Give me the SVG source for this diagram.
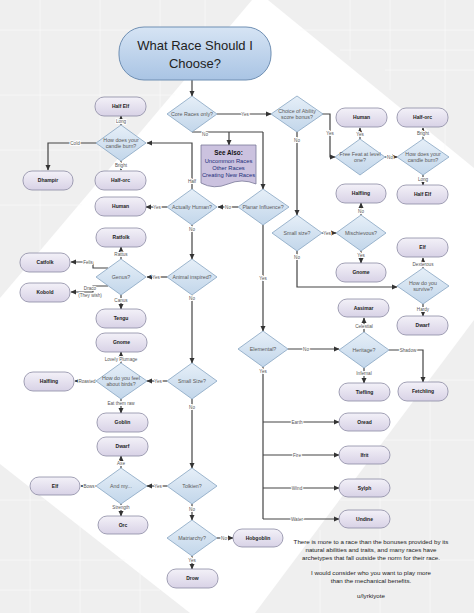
<svg xmlns="http://www.w3.org/2000/svg" width="474" height="613" viewBox="0 0 474 613">
<defs>
<linearGradient id="gT" x1="0" y1="0" x2="0" y2="1"><stop offset="0" stop-color="#f3f1f8"/><stop offset="1" stop-color="#d8d2e6"/></linearGradient>
<linearGradient id="gD" x1="0" y1="0" x2="0" y2="1"><stop offset="0" stop-color="#e6eff8"/><stop offset="1" stop-color="#c2d6ea"/></linearGradient>
<linearGradient id="gTitle" x1="0" y1="0" x2="0" y2="1"><stop offset="0" stop-color="#d6e4f4"/><stop offset="1" stop-color="#a9c4e4"/></linearGradient>
<marker id="ar" markerWidth="6" markerHeight="6" refX="5" refY="3" orient="auto" markerUnits="userSpaceOnUse"><path d="M0,0.5 L5.5,3 L0,5.5 z" fill="#333"/></marker>
</defs>
<style>
.t rect{fill:url(#gT);stroke:#8b8aa3;stroke-width:0.8}
.t text{font-family:"Liberation Sans",Arial,sans-serif;font-size:5px;font-weight:bold;fill:#222;text-anchor:middle}
.d polygon{fill:url(#gD);stroke:#86a5c2;stroke-width:0.8}
.d text{font-family:"Liberation Sans",Arial,sans-serif;font-size:5.3px;fill:#5a5a5a;text-anchor:middle}
#connectors path{fill:none;stroke:#444;stroke-width:1.2}
#connectors .a{marker-end:url(#ar)}
.lb{font-family:"Liberation Sans",Arial,sans-serif;font-size:4.6px;fill:#555;text-anchor:middle;stroke:#fff;stroke-width:2;paint-order:stroke;stroke-linejoin:round}
.bg{fill:#efefef}
.gl{stroke:#fbfbfb;stroke-width:0.7}
.note{font-family:"Liberation Sans",Arial,sans-serif;font-size:6.2px;fill:#222;text-anchor:middle}
</style>
<rect width="474" height="613" fill="#ffffff"/>
<g id="background">
<polygon class="bg" points="0,0 252,0 0,298"/>
<polygon class="bg" points="268,0 474,0 474,168"/>
<polygon class="bg" points="474,320 474,613 255,613"/>
<polygon class="bg" points="0,464 0,613 190,613"/>
<path class="gl" d="M0,30 H230 M0,95 H175 M0,150 H128 M0,205 H82 M40,0 V250 M100,0 V180 M160,0 V110 M205,0 V55 M300,30 H474 M340,50 H474 M385,70 H474 M350,0 V60 M390,0 V90 M445,0 V150 M0,500 H45 M0,560 H125 M0,590 H160 M30,487 V613 M80,525 V613 M140,570 V613 M474,380 H430 M474,440 H385 M474,500 H340 M474,560 H300 M430,380 V613 M380,460 V613 M320,530 V613"/>
</g>
<g id="connectors">
<path class="a" d="M192,80 V96"/>
<path class="a" d="M217,114 H271"/>
<path d="M192,132 H263"/>
<path class="a" d="M263,132 V189"/>
<path class="a" d="M229,132 V145"/>
<path class="a" d="M238,207 H218"/>
<path class="a" d="M167,207 H146"/>
<path class="a" d="M192,189 V143 H147"/>
<path class="a" d="M121,125 V116"/>
<path class="a" d="M121,161 V170"/>
<path class="a" d="M96,143 H48 V170"/>
<path class="a" d="M192,225 V259"/>
<path class="a" d="M167,277 H147"/>
<path class="a" d="M192,295 V363"/>
<path class="a" d="M121,259 V247"/>
<path class="a" d="M108,268 H93 V262 H71"/>
<path class="a" d="M108,286 H93 V292 H71"/>
<path class="a" d="M121,295 V309"/>
<path class="a" d="M167,381 H147"/>
<path class="a" d="M192,399 V468"/>
<path class="a" d="M121,363 V352"/>
<path class="a" d="M96,381 H75"/>
<path class="a" d="M121,399 V413"/>
<path class="a" d="M167,486 H147"/>
<path class="a" d="M192,504 V520"/>
<path class="a" d="M121,468 V456"/>
<path class="a" d="M96,486 H81"/>
<path class="a" d="M121,504 V516"/>
<path class="a" d="M217,538 H233"/>
<path class="a" d="M192,556 V569"/>
<path class="a" d="M263,225 V331"/>
<path class="a" d="M288,349 H339"/>
<path d="M263,367 V519"/>
<path class="a" d="M263,422 H339"/>
<path class="a" d="M263,455 H339"/>
<path class="a" d="M263,488 H339"/>
<path class="a" d="M263,519 H339"/>
<path class="a" d="M364,332 V318"/>
<path class="a" d="M389,350 H423 V382"/>
<path class="a" d="M364,368 V383"/>
<path class="a" d="M297,132 V215"/>
<path class="a" d="M322,114 H330 V157 H335"/>
<path class="a" d="M360,139 V128"/>
<path class="a" d="M385,157 H397"/>
<path class="a" d="M423,139 V128"/>
<path class="a" d="M423,175 V185"/>
<path class="a" d="M322,233 H336"/>
<path class="a" d="M361,215 V203"/>
<path class="a" d="M361,251 V263"/>
<path class="a" d="M297,251 V287 H397"/>
<path class="a" d="M423,268 V258"/>
<path class="a" d="M423,304 V316"/>
<text class="lb" x="245" y="115.5">Yes</text>
<text class="lb" x="205" y="135.5">No</text>
<text class="lb" x="228" y="208.5">No</text>
<text class="lb" x="157" y="208.5">Yes</text>
<text class="lb" x="192" y="182.5">Half</text>
<text class="lb" x="121" y="122.5">Long</text>
<text class="lb" x="121" y="166.5">Bright</text>
<text class="lb" x="75" y="144.5">Cold</text>
<text class="lb" x="192" y="230.5">No</text>
<text class="lb" x="156" y="278.5">Yes</text>
<text class="lb" x="192" y="299.5">No</text>
<text class="lb" x="121" y="255.5">Rattus</text>
<text class="lb" x="88" y="263.5">Felis</text>
<text class="lb" x="90" y="290">Draco</text>
<text class="lb" x="90" y="297">(They wish)</text>
<text class="lb" x="121" y="301.5">Canus</text>
<text class="lb" x="158" y="382.5">Yes</text>
<text class="lb" x="192" y="408.5">No</text>
<text class="lb" x="121" y="360.5">Lovely Plumage</text>
<text class="lb" x="87" y="382.5">Roasted</text>
<text class="lb" x="121" y="404.5">Eat them raw</text>
<text class="lb" x="158" y="487.5">Yes</text>
<text class="lb" x="192" y="510.5">No</text>
<text class="lb" x="121" y="464.5">Axe</text>
<text class="lb" x="89" y="487.5">Bows</text>
<text class="lb" x="121" y="508.5">Strength</text>
<text class="lb" x="224" y="539.5">No</text>
<text class="lb" x="192" y="561.5">Yes</text>
<text class="lb" x="263" y="279.5">Yes</text>
<text class="lb" x="306" y="350.5">No</text>
<text class="lb" x="263" y="372.5">Yes</text>
<text class="lb" x="297" y="423.5">Earth</text>
<text class="lb" x="297" y="456.5">Fire</text>
<text class="lb" x="297" y="489.5">Wind</text>
<text class="lb" x="297" y="520.5">Water</text>
<text class="lb" x="364" y="327.5">Celestial</text>
<text class="lb" x="408" y="351.5">Shadow</text>
<text class="lb" x="364" y="374.5">Infernal</text>
<text class="lb" x="297" y="141.5">No</text>
<text class="lb" x="330" y="134.5">Yes</text>
<text class="lb" x="360" y="135.5">Yes</text>
<text class="lb" x="390" y="158.5">No</text>
<text class="lb" x="423" y="134.5">Bright</text>
<text class="lb" x="423" y="180.5">Long</text>
<text class="lb" x="327" y="234.5">Yes</text>
<text class="lb" x="361" y="212.5">No</text>
<text class="lb" x="361" y="256.5">Yes</text>
<text class="lb" x="297" y="258.5">No</text>
<text class="lb" x="423" y="265.5">Dexterous</text>
<text class="lb" x="423" y="310.5">Hardy</text>
</g>
<g id="title">
<rect x="119" y="27" width="152" height="53" rx="25" fill="url(#gTitle)" stroke="#6f8fb3" stroke-width="1"/>
<text x="195" y="50" font-family="Liberation Sans, Arial, sans-serif" font-size="13" fill="#222" text-anchor="middle">What Race Should I</text>
<text x="195" y="68" font-family="Liberation Sans, Arial, sans-serif" font-size="13" fill="#222" text-anchor="middle">Choose?</text>
</g>
<g id="seealso">
<path d="M201,145 H256 V184 Q242,178 228,184 T201,183 Z" fill="#cbc2df" stroke="#7a7898" stroke-width="0.8"/>
<text x="228.5" y="155" font-family="Liberation Sans, Arial, sans-serif" font-size="6.3" font-weight="bold" fill="#111" text-anchor="middle">See Also:</text>
<text x="228.5" y="163" font-family="Liberation Sans, Arial, sans-serif" font-size="5.8" fill="#1c2f7a" text-anchor="middle">Uncommon Races</text>
<text x="228.5" y="170" font-family="Liberation Sans, Arial, sans-serif" font-size="5.8" fill="#1c2f7a" text-anchor="middle">Other Races</text>
<text x="228.5" y="177" font-family="Liberation Sans, Arial, sans-serif" font-size="5.8" fill="#1c2f7a" text-anchor="middle">Creating New Races</text>
</g>
<g id="d-core" class="d"><polygon points="167,114 192,96 217,114 192,132"/><text x="192" y="116">Core Races only?</text></g>
<g id="d-ability" class="d"><polygon points="271,114 297,96 323,114 297,132"/><text x="297" y="113">Choice of Ability</text><text x="297" y="119">score bonus?</text></g>
<g id="d-candle-l" class="d"><polygon points="96,143 121,125 146,143 121,161"/><text x="121" y="142">How does your</text><text x="121" y="148">candle burn?</text></g>
<g id="d-planar" class="d"><polygon points="238,207 263,189 289,207 263,225"/><text x="263" y="209">Planar Influence?</text></g>
<g id="d-human" class="d"><polygon points="167,207 192,189 217,207 192,225"/><text x="192" y="209">Actually Human?</text></g>
<g id="d-animal" class="d"><polygon points="167,277 192,259 217,277 192,295"/><text x="192" y="279">Animal inspired?</text></g>
<g id="d-genus" class="d"><polygon points="96,277 121,259 146,277 121,295"/><text x="121" y="279">Genus?</text></g>
<g id="d-birds" class="d"><polygon points="96,381 121,363 147,381 121,399"/><text x="121" y="380">How do you feel</text><text x="121" y="386">about birds?</text></g>
<g id="d-small" class="d"><polygon points="167,381 192,363 217,381 192,399"/><text x="192" y="383">Small Size?</text></g>
<g id="d-tolkien" class="d"><polygon points="167,486 192,468 217,486 192,504"/><text x="192" y="488">Tolkien?</text></g>
<g id="d-andmy" class="d"><polygon points="96,486 121,468 147,486 121,504"/><text x="121" y="488">And my...</text></g>
<g id="d-matri" class="d"><polygon points="167,538 192,520 217,538 192,556"/><text x="192" y="540">Matriarchy?</text></g>
<g id="d-elem" class="d"><polygon points="238,349 263,331 288,349 263,367"/><text x="263" y="351">Elemental?</text></g>
<g id="d-herit" class="d"><polygon points="339,350 364,332 389,350 364,368"/><text x="364" y="352">Heritage?</text></g>
<g id="d-small-r" class="d"><polygon points="272,233 297,215 322,233 297,251"/><text x="297" y="235">Small size?</text></g>
<g id="d-misch" class="d"><polygon points="336,233 361,215 386,233 361,251"/><text x="361" y="235">Mischievous?</text></g>
<g id="d-survive" class="d"><polygon points="397,286 423,268 449,286 423,304"/><text x="423" y="285">How do you</text><text x="423" y="291">survive?</text></g>
<g id="d-feat" class="d"><polygon points="335,157 360,139 385,157 360,175"/><text x="360" y="156">Free Feat at level</text><text x="360" y="162">one?</text></g>
<g id="d-candle-r" class="d"><polygon points="397,157 423,139 449,157 423,175"/><text x="423" y="156">How does your</text><text x="423" y="162">candle burn?</text></g>
<g id="t-halfelf-l" class="t"><rect x="95" y="97" width="51" height="19" rx="9"/><text x="120.5" y="108">Half Elf</text></g>
<g id="t-dhampir" class="t"><rect x="23" y="171" width="50" height="19" rx="9"/><text x="48" y="182">Dhampir</text></g>
<g id="t-halforc-l" class="t"><rect x="95" y="171" width="51" height="19" rx="9"/><text x="120.5" y="182">Half-orc</text></g>
<g id="t-human-l" class="t"><rect x="95" y="197" width="51" height="19" rx="9"/><text x="120.5" y="208">Human</text></g>
<g id="t-ratfolk" class="t"><rect x="96" y="228" width="50" height="19" rx="9"/><text x="121" y="239">Ratfolk</text></g>
<g id="t-catfolk" class="t"><rect x="20" y="253" width="50" height="19" rx="9"/><text x="45" y="264">Catfolk</text></g>
<g id="t-kobold" class="t"><rect x="20" y="283" width="50" height="19" rx="9"/><text x="45" y="294">Kobold</text></g>
<g id="t-tengu" class="t"><rect x="96" y="309" width="50" height="19" rx="9"/><text x="121" y="320">Tengu</text></g>
<g id="t-gnome-l" class="t"><rect x="96" y="333" width="51" height="19" rx="9"/><text x="121.5" y="344">Gnome</text></g>
<g id="t-halfling-l" class="t"><rect x="24" y="372" width="50" height="19" rx="9"/><text x="49" y="383">Halfling</text></g>
<g id="t-goblin" class="t"><rect x="97" y="413" width="51" height="19" rx="9"/><text x="122.5" y="424">Goblin</text></g>
<g id="t-dwarf-l" class="t"><rect x="97" y="437" width="51" height="19" rx="9"/><text x="122.5" y="448">Dwarf</text></g>
<g id="t-elf-l" class="t"><rect x="30" y="477" width="50" height="18" rx="9"/><text x="55" y="488">Elf</text></g>
<g id="t-orc" class="t"><rect x="98" y="516" width="50" height="18" rx="9"/><text x="123" y="527">Orc</text></g>
<g id="t-hobgoblin" class="t"><rect x="233" y="529" width="50" height="18" rx="9"/><text x="258" y="540">Hobgoblin</text></g>
<g id="t-drow" class="t"><rect x="167" y="569" width="51" height="19" rx="9"/><text x="192.5" y="580">Drow</text></g>
<g id="t-human-r" class="t"><rect x="336" y="108" width="51" height="19" rx="9"/><text x="361.5" y="119">Human</text></g>
<g id="t-halforc-r" class="t"><rect x="397" y="108" width="51" height="19" rx="9"/><text x="422.5" y="119">Half-orc</text></g>
<g id="t-halfling-r" class="t"><rect x="336" y="184" width="50" height="19" rx="9"/><text x="361" y="195">Halfling</text></g>
<g id="t-halfelf-r" class="t"><rect x="397" y="185" width="51" height="19" rx="9"/><text x="422.5" y="196">Half Elf</text></g>
<g id="t-gnome-r" class="t"><rect x="336" y="263" width="50" height="19" rx="9"/><text x="361" y="274">Gnome</text></g>
<g id="t-elf-r" class="t"><rect x="397" y="238" width="51" height="19" rx="9"/><text x="422.5" y="249">Elf</text></g>
<g id="t-aasimar" class="t"><rect x="338" y="299" width="51" height="18" rx="9"/><text x="363.5" y="310">Aasimar</text></g>
<g id="t-dwarf-r" class="t"><rect x="397" y="316" width="51" height="19" rx="9"/><text x="422.5" y="327">Dwarf</text></g>
<g id="t-tiefling" class="t"><rect x="339" y="383" width="51" height="18" rx="9"/><text x="364.5" y="394">Tiefling</text></g>
<g id="t-fetchling" class="t"><rect x="398" y="382" width="50" height="19" rx="9"/><text x="423" y="393">Fetchling</text></g>
<g id="t-oread" class="t"><rect x="339" y="413" width="51" height="18" rx="9"/><text x="364.5" y="424">Oread</text></g>
<g id="t-ifrit" class="t"><rect x="339" y="446" width="51" height="18" rx="9"/><text x="364.5" y="457">Ifrit</text></g>
<g id="t-sylph" class="t"><rect x="339" y="479" width="51" height="18" rx="9"/><text x="364.5" y="490">Sylph</text></g>
<g id="t-undine" class="t"><rect x="339" y="510" width="51" height="18" rx="9"/><text x="364.5" y="521">Undine</text></g>
<g id="note">
<text class="note" x="371" y="544">There is more to a race than the bonuses provided by its</text>
<text class="note" x="371" y="552">natural abilities and traits, and many races have</text>
<text class="note" x="371" y="560">archetypes that fall outside the norm for their race.</text>
<text class="note" x="371" y="575">I would consider who you want to play more</text>
<text class="note" x="371" y="583">than the mechanical benefits.</text>
<text class="note" x="371" y="598">u/lyrkiyote</text>
</g>
</svg>
